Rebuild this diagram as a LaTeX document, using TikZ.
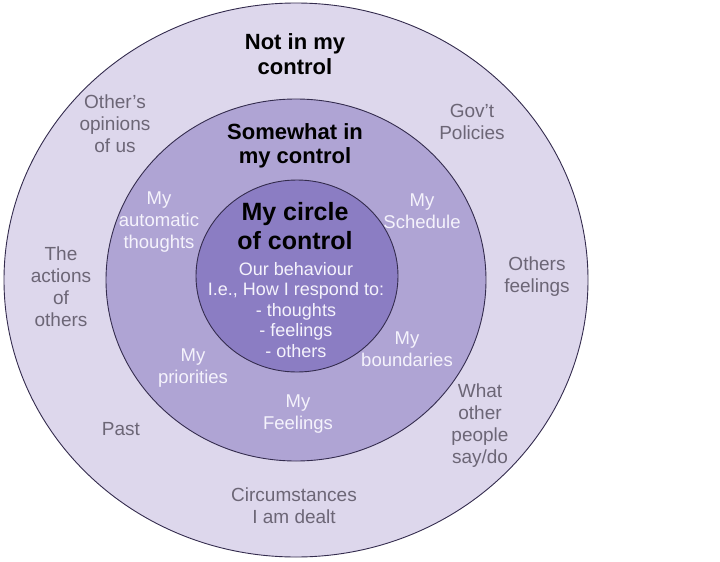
\documentclass[tikz,border=0pt]{standalone}
\usepackage{fontspec}
\setmainfont{Liberation Sans}
\usepackage{xcolor}
\definecolor{ringOuter}{RGB}{221,215,236}
\definecolor{ringMiddle}{RGB}{175,164,212}
\definecolor{ringInner}{RGB}{139,125,195}
\definecolor{ringEdge}{RGB}{52,44,78}
\definecolor{outerGray}{RGB}{108,102,118}
\definecolor{softWhite}{RGB}{245,243,252}
\usepackage{tikz}

\begin{document}
\begin{tikzpicture}[x=1pt, y=-1pt,
  ring/.style={draw=ringEdge, line width=0.9pt},
  outertext/.style={text=outerGray, align=center, font=\fontsize{19}{22}\selectfont},
  midtext/.style={text=softWhite, align=center, font=\fontsize{18.5}{22}\selectfont},
  innertext/.style={text=softWhite, align=center, font=\fontsize{18}{20.5}\selectfont},
  headtext/.style={text=black, align=center, font=\bfseries\fontsize{22}{25}\selectfont}]
\useasboundingbox[fill=white] (0,0) rectangle (720,562);
% rings
\draw[ring, fill=ringOuter] (296,280) ellipse [x radius=292, y radius=277];
\draw[ring, fill=ringMiddle] (296,280) ellipse [x radius=190, y radius=181];
\draw[ring, fill=ringInner] (297,276) ellipse [x radius=101, y radius=96];
% outer ring
\node[headtext] (notin) at (295,54) {Not in my\\control};
\node[outertext] (opinions) at (115,124) {Other's\\opinions\\of us};
\node[outertext] (govt) at (472,122) {Gov't\\Policies};
\node[outertext] (actions) at (61,287) {The\\actions\\of\\others};
\node[outertext] (othfeel) at (537,277) {Others\\feelings};
\node[outertext] (past) at (121,429) {Past};
\node[outertext] (saydo) at (480,426) {What\\other\\people\\say/do};
\node[outertext] (dealt) at (294,506) {Circumstances\\I am dealt};
% middle ring
\node[headtext, font=\bfseries\fontsize{22}{24}\selectfont] (somewhat) at (295,146) {Somewhat in\\my control};
\node[midtext] (autothou) at (159,222) {My\\automatic\\thoughts};
\node[midtext] (schedule) at (422,211) {My\\Schedule};
\node[midtext] (bounds) at (407,349) {My\\boundaries};
\node[midtext] (prior) at (193,368) {My\\priorities};
\node[midtext] (myfeel) at (298,414) {My\\Feelings};
% inner circle
\node[headtext, font=\bfseries\fontsize{25}{29}\selectfont] (mycircle) at (295,226) {My circle\\of control};
\node[innertext] (behave) at (296,310) {Our behaviour\\I.e., How I respond to:\\- thoughts\\- feelings\\- others};
\end{tikzpicture}
\end{document}
